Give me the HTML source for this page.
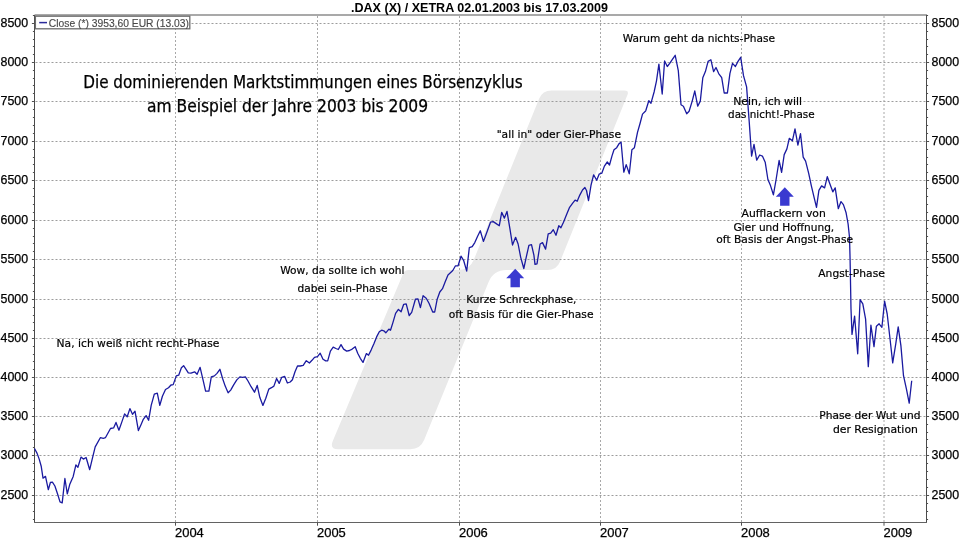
<!DOCTYPE html>
<html lang="de"><head><meta charset="utf-8"><title>DAX Marktstimmungen</title>
<style>
html,body{margin:0;padding:0;background:#fff}
body{width:960px;height:540px;overflow:hidden}
svg{display:block}
.ax{font-family:"Liberation Sans",sans-serif;font-size:12.4px;fill:#000;stroke:#000;stroke-width:0.25px}
.ttl{font-family:"Liberation Sans",sans-serif;font-size:12.3px;font-weight:bold;fill:#000}
.lg{font-family:"Liberation Sans",sans-serif;font-size:11px;fill:#484848;stroke:#484848;stroke-width:0.15px}
.an{font-family:"DejaVu Sans","Liberation Sans",sans-serif;font-size:11px;fill:#000;stroke:#000;stroke-width:0.2px}
.hd{font-family:"DejaVu Sans Condensed","DejaVu Sans","Liberation Sans",sans-serif;font-size:17px;fill:#000;stroke:#000;stroke-width:0.25px}
</style></head><body>
<svg width="960" height="540" viewBox="0 0 960 540">
<rect width="960" height="540" fill="#fff"/>
<path fill="#e9e9e9" d="M539.1,98.8 Q542.5,90.5 551.5,90.5 L624.3,90.5 Q629.3,90.5 627.4,95.1 L560.0,261.7 Q556.6,270 547.6,270.0 L506.5,270.0 Q493.5,270 488.6,282.0 L424.1,440.0 Q420.3,449.25 410.3,449.2 L338.3,449.2 Q329.3,449.25 332.8,441.0 L403.1,273.7 Q404.6,270 408.6,270.0 L458.7,270.0 Q469.7,270 473.8,259.8 Z"/>
<g stroke="#9c9c9c" stroke-width="1" stroke-dasharray="2 2" fill="none">
<path d="M35.5,495.5H926.5"/><path d="M35.5,455.5H926.5"/><path d="M35.5,416.5H926.5"/><path d="M35.5,377.5H926.5"/><path d="M35.5,338.5H926.5"/><path d="M35.5,299.5H926.5"/><path d="M35.5,259.5H926.5"/><path d="M35.5,220.5H926.5"/><path d="M35.5,180.5H926.5"/><path d="M35.5,141.5H926.5"/><path d="M35.5,101.5H926.5"/><path d="M35.5,62.5H926.5"/><path d="M35.5,23.5H926.5"/></g>
<g stroke="#a8a8a8" stroke-width="1" stroke-dasharray="2 2" fill="none">
<path d="M175.5,16V522.5"/><path d="M317.5,16V522.5"/><path d="M459.5,16V522.5"/><path d="M600.5,16V522.5"/><path d="M741.5,16V522.5"/><path d="M884.0,16V522.5"/></g>
<path d="M34.5,15H927.0" stroke="#8c8c8c" stroke-width="1.4" fill="none"/>
<path d="M34.5,15V522.5M926.5,522.5V15" stroke="#4a4a4a" stroke-width="1" fill="none"/>
<path d="M34.0,522.5H927.0" stroke="#626262" stroke-width="1.1" fill="none"/>
<path d="M32.9,519.5h1.6M926.5,519.5h1.6M32.9,511.5h1.6M926.5,511.5h1.6M32.9,503.5h1.6M926.5,503.5h1.6M31.9,495.5h2.6M926.5,495.5h2.6M32.9,487.5h1.6M926.5,487.5h1.6M32.9,479.5h1.6M926.5,479.5h1.6M32.9,471.5h1.6M926.5,471.5h1.6M32.9,463.5h1.6M926.5,463.5h1.6M31.9,455.5h2.6M926.5,455.5h2.6M32.9,447.5h1.6M926.5,447.5h1.6M32.9,439.5h1.6M926.5,439.5h1.6M32.9,432.5h1.6M926.5,432.5h1.6M32.9,424.5h1.6M926.5,424.5h1.6M31.9,416.5h2.6M926.5,416.5h2.6M32.9,408.5h1.6M926.5,408.5h1.6M32.9,400.5h1.6M926.5,400.5h1.6M32.9,393.5h1.6M926.5,393.5h1.6M32.9,385.5h1.6M926.5,385.5h1.6M31.9,377.5h2.6M926.5,377.5h2.6M32.9,369.5h1.6M926.5,369.5h1.6M32.9,361.5h1.6M926.5,361.5h1.6M32.9,354.5h1.6M926.5,354.5h1.6M32.9,346.5h1.6M926.5,346.5h1.6M31.9,338.5h2.6M926.5,338.5h2.6M32.9,330.5h1.6M926.5,330.5h1.6M32.9,322.5h1.6M926.5,322.5h1.6M32.9,315.5h1.6M926.5,315.5h1.6M32.9,307.5h1.6M926.5,307.5h1.6M31.9,299.5h2.6M926.5,299.5h2.6M32.9,291.5h1.6M926.5,291.5h1.6M32.9,283.5h1.6M926.5,283.5h1.6M32.9,275.5h1.6M926.5,275.5h1.6M32.9,267.5h1.6M926.5,267.5h1.6M31.9,259.5h2.6M926.5,259.5h2.6M32.9,251.5h1.6M926.5,251.5h1.6M32.9,243.5h1.6M926.5,243.5h1.6M32.9,236.5h1.6M926.5,236.5h1.6M32.9,228.5h1.6M926.5,228.5h1.6M31.9,220.5h2.6M926.5,220.5h2.6M32.9,212.5h1.6M926.5,212.5h1.6M32.9,204.5h1.6M926.5,204.5h1.6M32.9,196.5h1.6M926.5,196.5h1.6M32.9,188.5h1.6M926.5,188.5h1.6M31.9,180.5h2.6M926.5,180.5h2.6M32.9,172.5h1.6M926.5,172.5h1.6M32.9,164.5h1.6M926.5,164.5h1.6M32.9,157.5h1.6M926.5,157.5h1.6M32.9,149.5h1.6M926.5,149.5h1.6M31.9,141.5h2.6M926.5,141.5h2.6M32.9,133.5h1.6M926.5,133.5h1.6M32.9,125.5h1.6M926.5,125.5h1.6M32.9,117.5h1.6M926.5,117.5h1.6M32.9,109.5h1.6M926.5,109.5h1.6M31.9,101.5h2.6M926.5,101.5h2.6M32.9,93.5h1.6M926.5,93.5h1.6M32.9,85.5h1.6M926.5,85.5h1.6M32.9,78.5h1.6M926.5,78.5h1.6M32.9,70.5h1.6M926.5,70.5h1.6M31.9,62.5h2.6M926.5,62.5h2.6M32.9,54.5h1.6M926.5,54.5h1.6M32.9,46.5h1.6M926.5,46.5h1.6M32.9,39.5h1.6M926.5,39.5h1.6M32.9,31.5h1.6M926.5,31.5h1.6M31.9,23.5h2.6M926.5,23.5h2.6M32.9,15.5h1.6M926.5,15.5h1.6M175.5,522.5v3.2M317.5,522.5v3.2M459.5,522.5v3.2M600.5,522.5v3.2M741.5,522.5v3.2M884.0,522.5v3.2" stroke="#505050" stroke-width="1" fill="none"/>
<text class="ax" x="0.5" y="499.2">2500</text><text class="ax" x="931.5" y="499.2">2500</text>
<text class="ax" x="0.5" y="459.2">3000</text><text class="ax" x="931.5" y="459.2">3000</text>
<text class="ax" x="0.5" y="420.2">3500</text><text class="ax" x="931.5" y="420.2">3500</text>
<text class="ax" x="0.5" y="381.2">4000</text><text class="ax" x="931.5" y="381.2">4000</text>
<text class="ax" x="0.5" y="342.2">4500</text><text class="ax" x="931.5" y="342.2">4500</text>
<text class="ax" x="0.5" y="303.2">5000</text><text class="ax" x="931.5" y="303.2">5000</text>
<text class="ax" x="0.5" y="263.2">5500</text><text class="ax" x="931.5" y="263.2">5500</text>
<text class="ax" x="0.5" y="224.2">6000</text><text class="ax" x="931.5" y="224.2">6000</text>
<text class="ax" x="0.5" y="184.2">6500</text><text class="ax" x="931.5" y="184.2">6500</text>
<text class="ax" x="0.5" y="145.2">7000</text><text class="ax" x="931.5" y="145.2">7000</text>
<text class="ax" x="0.5" y="105.2">7500</text><text class="ax" x="931.5" y="105.2">7500</text>
<text class="ax" x="0.5" y="66.2">8000</text><text class="ax" x="931.5" y="66.2">8000</text>
<text class="ax" x="0.5" y="27.2">8500</text><text class="ax" x="931.5" y="27.2">8500</text>
<text class="ax" x="175.0" y="537.3" textLength="28.8" lengthAdjust="spacingAndGlyphs">2004</text>
<text class="ax" x="317.0" y="537.3" textLength="28.8" lengthAdjust="spacingAndGlyphs">2005</text>
<text class="ax" x="459.0" y="537.3" textLength="28.8" lengthAdjust="spacingAndGlyphs">2006</text>
<text class="ax" x="600.0" y="537.3" textLength="28.8" lengthAdjust="spacingAndGlyphs">2007</text>
<text class="ax" x="741.0" y="537.3" textLength="28.8" lengthAdjust="spacingAndGlyphs">2008</text>
<text class="ax" x="883.5" y="537.3" textLength="28.8" lengthAdjust="spacingAndGlyphs">2009</text>
<text class="ttl" x="351" y="11.5" textLength="257" lengthAdjust="spacingAndGlyphs">.DAX (X) / XETRA 02.01.2003 bis 17.03.2009</text>
<path d="M34.5,448.5 L37.1,453.4 L39.2,459.1 L41.2,466.2 L43.0,478.1 L45.5,476.4 L48.3,489.7 L50.4,482.5 L52.4,482.1 L54.9,486.0 L57.5,493.8 L60.0,501.9 L62.2,502.9 L64.9,478.5 L67.3,493.8 L69.7,484.6 L73.2,476.4 L75.9,464.8 L77.9,467.3 L81.0,457.1 L83.4,459.1 L86.1,457.5 L89.7,469.7 L92.2,459.1 L95.2,446.9 L100.3,437.7 L103.4,438.3 L105.4,437.7 L110.5,428.5 L113.6,427.9 L116.0,422.4 L118.9,430.2 L121.7,422.4 L124.6,413.9 L127.2,416.7 L129.9,408.6 L132.5,414.3 L135.0,411.2 L138.4,430.6 L141.1,424.5 L143.1,419.7 L146.1,415.6 L148.6,420.3 L151.2,405.4 L154.3,394.2 L157.3,393.2 L159.8,405.4 L162.4,396.2 L165.5,389.5 L168.5,387.7 L171.0,385.0 L173.2,384.6 L176.3,375.9 L178.7,375.2 L181.4,367.7 L183.6,365.7 L185.9,369.1 L188.3,372.8 L191.0,373.2 L194.6,371.8 L197.1,374.2 L200.1,367.3 L202.8,378.9 L205.6,391.1 L208.9,391.1 L211.3,376.9 L214.4,375.9 L217.0,373.4 L219.9,369.3 L222.5,378.3 L225.2,386.1 L228.1,392.8 L230.7,390.1 L233.8,384.6 L236.8,379.9 L239.9,376.9 L242.5,377.3 L245.4,376.9 L248.0,381.0 L251.1,386.7 L254.5,392.2 L257.2,385.4 L259.8,397.3 L262.9,405.4 L265.8,398.3 L268.8,389.1 L271.5,387.7 L273.9,386.1 L276.6,378.5 L279.2,383.4 L281.7,377.3 L284.7,376.5 L287.4,383.0 L290.2,382.0 L292.4,379.7 L295.1,371.5 L297.5,366.0 L300.2,366.0 L303.2,365.4 L306.3,360.7 L309.4,363.0 L312.0,360.3 L314.5,357.3 L317.5,356.6 L320.2,353.2 L323.0,359.3 L325.7,360.9 L327.7,360.9 L330.4,351.1 L333.2,347.1 L335.9,348.5 L338.3,349.5 L341.0,344.6 L343.6,349.1 L346.7,351.1 L349.5,350.5 L352.2,349.1 L355.2,346.7 L357.7,353.2 L360.3,358.3 L363.0,362.4 L366.4,353.6 L368.5,355.2 L371.1,350.1 L374.0,343.4 L376.6,336.9 L379.3,331.8 L381.7,330.2 L383.8,330.8 L385.8,332.8 L388.9,329.1 L390.5,330.2 L392.9,322.6 L395.6,313.4 L398.4,309.4 L401.1,311.8 L403.7,304.3 L406.2,303.9 L409.2,315.5 L411.7,312.4 L415.4,299.2 L418.0,298.8 L420.4,307.7 L423.1,295.7 L426.2,298.2 L429.0,303.2 L432.7,312.0 L434.7,312.0 L437.2,299.2 L439.8,292.0 L442.5,288.7 L445.3,281.6 L448.0,274.9 L452.8,270.5 L455.5,265.8 L458.1,265.8 L461.0,256.2 L463.6,260.3 L466.7,271.1 L469.3,247.7 L472.2,246.7 L474.8,242.6 L477.5,236.5 L480.3,230.8 L483.4,241.4 L486.5,233.2 L490.5,222.2 L493.2,221.6 L496.2,223.6 L499.3,225.7 L501.7,212.4 L504.4,218.1 L507.0,211.4 L509.9,228.7 L512.5,245.0 L515.6,237.3 L518.1,244.0 L520.7,257.3 L523.8,268.5 L526.2,257.3 L528.9,245.4 L531.5,244.6 L533.9,255.2 L535.0,264.4 L537.0,263.8 L540.1,244.0 L542.5,242.6 L545.6,249.1 L548.2,233.8 L550.7,233.2 L553.3,229.7 L556.0,235.2 L558.8,225.7 L560.9,227.7 L563.5,222.2 L566.6,214.5 L569.6,207.3 L572.7,203.2 L575.1,200.2 L577.2,201.2 L579.8,195.1 L582.5,190.0 L584.9,187.5 L586.5,190.5 L588.5,200.7 L591.0,185.4 L593.6,174.8 L596.7,180.3 L599.1,174.2 L601.8,173.2 L604.4,166.1 L607.3,162.0 L609.5,165.0 L612.0,155.9 L614.0,149.7 L616.7,147.7 L619.1,143.6 L621.1,142.2 L623.8,172.2 L626.2,164.6 L629.3,173.8 L631.9,149.7 L634.4,147.7 L637.5,132.4 L640.1,123.2 L642.5,114.1 L645.6,111.0 L645.9,110.3 L648.8,100.7 L651.0,103.2 L654.1,92.0 L656.5,80.8 L658.9,64.1 L662.2,94.0 L664.6,61.0 L667.3,66.5 L669.7,63.4 L672.4,59.4 L675.2,55.3 L678.3,70.6 L681.0,104.8 L683.4,106.2 L686.7,113.8 L689.1,111.3 L692.2,101.1 L694.8,91.0 L697.7,106.2 L700.3,101.1 L702.8,77.7 L705.4,71.6 L708.1,61.4 L710.9,59.8 L713.6,71.6 L716.0,67.5 L718.7,73.6 L721.7,77.7 L724.2,93.0 L727.4,93.0 L729.9,73.6 L732.5,63.4 L735.4,66.5 L738.0,61.4 L740.7,57.3 L743.5,75.7 L746.6,86.9 L749.2,121.5 L751.6,156.1 L754.0,144.4 L756.7,160.1 L759.7,155.0 L762.4,156.1 L765.2,162.2 L767.9,179.5 L770.5,185.6 L773.4,194.8 L776.1,179.5 L779.1,160.5 L781.6,172.4 L784.2,154.6 L786.9,148.9 L789.3,138.3 L792.4,140.8 L795.0,128.9 L797.9,145.2 L800.5,133.6 L803.2,157.1 L805.6,161.1 L808.7,173.4 L811.3,185.6 L814.2,197.8 L816.5,207.3 L818.9,190.4 L821.6,185.9 L824.6,187.9 L827.3,176.7 L830.2,184.7 L832.8,191.8 L835.2,187.9 L838.3,208.7 L841.0,201.6 L843.4,204.6 L846.1,212.8 L848.1,224.0 L849.5,237.3 L850.1,259.7 L851.0,308.9 L852.0,334.4 L854.6,316.1 L857.7,353.8 L860.1,299.7 L862.8,303.8 L865.6,319.1 L868.3,366.6 L870.9,325.2 L874.0,346.6 L876.4,326.2 L879.1,323.8 L881.9,327.3 L884.6,301.2 L887.2,314.0 L890.1,339.5 L892.7,362.9 L895.8,343.6 L898.2,326.9 L900.9,345.6 L903.5,375.7 L906.4,388.9 L909.2,403.2 L911.7,380.8" stroke="#1a1aa0" stroke-width="1.3" fill="none" stroke-linejoin="round"/>
<rect x="35.4" y="16.2" width="154.4" height="12.6" fill="#fff" stroke="#6c6c6c" stroke-width="1.3"/>
<path d="M39.2,22.6h7.8" stroke="#2a2a9a" stroke-width="1.5"/>
<text class="lg" x="48.8" y="26.7" textLength="140.2" lengthAdjust="spacingAndGlyphs">Close (*) 3953,60 EUR (13.03)</text>
<path fill="#3a3ad0" d="M515.2,268.8 l9,9.5 h-4.3 v9 h-9.4 v-9 h-4.3 Z"/>
<path fill="#3a3ad0" d="M784.8,187.3 l9,9.5 h-4.3 v9 h-9.4 v-9 h-4.3 Z"/>
<text class="hd" x="83.2" y="88" textLength="439.5" lengthAdjust="spacingAndGlyphs">Die dominierenden Marktstimmungen eines Börsenzyklus</text>
<text class="hd" x="147" y="112" textLength="281" lengthAdjust="spacingAndGlyphs">am Beispiel der Jahre 2003 bis 2009</text>
<text class="an" x="56.6" y="346.5" textLength="162.8" lengthAdjust="spacingAndGlyphs">Na, ich weiß nicht recht-Phase</text>
<text class="an" x="280.2" y="274.2" textLength="124.2" lengthAdjust="spacingAndGlyphs">Wow, da sollte ich wohl</text>
<text class="an" x="297.5" y="292.1" textLength="90" lengthAdjust="spacingAndGlyphs">dabei sein-Phase</text>
<text class="an" x="466.3" y="302.7" textLength="110.2" lengthAdjust="spacingAndGlyphs">Kurze Schreckphase,</text>
<text class="an" x="448.75" y="317.7" textLength="144.75" lengthAdjust="spacingAndGlyphs">oft Basis für die Gier-Phase</text>
<text class="an" x="496.7" y="138.3" textLength="124.3" lengthAdjust="spacingAndGlyphs">&quot;all in&quot; oder Gier-Phase</text>
<text class="an" x="622.7" y="42.3" textLength="152.3" lengthAdjust="spacingAndGlyphs">Warum geht da nichts-Phase</text>
<text class="an" x="733.2" y="105.2" textLength="68.8" lengthAdjust="spacingAndGlyphs">Nein, ich will</text>
<text class="an" x="728.1" y="117.7" textLength="86.5" lengthAdjust="spacingAndGlyphs">das nicht!-Phase</text>
<text class="an" x="741.6" y="216.9" textLength="84.2" lengthAdjust="spacingAndGlyphs">Aufflackern von</text>
<text class="an" x="733.6" y="231" textLength="100.6" lengthAdjust="spacingAndGlyphs">Gier und Hoffnung,</text>
<text class="an" x="716.25" y="243.1" textLength="136.85" lengthAdjust="spacingAndGlyphs">oft Basis der Angst-Phase</text>
<text class="an" x="818.3" y="277.3" textLength="66.5" lengthAdjust="spacingAndGlyphs">Angst-Phase</text>
<text class="an" x="819.3" y="418.9" textLength="101.2" lengthAdjust="spacingAndGlyphs">Phase der Wut und</text>
<text class="an" x="832.9" y="432.5" textLength="85" lengthAdjust="spacingAndGlyphs">der Resignation</text>
</svg>
</body></html>
